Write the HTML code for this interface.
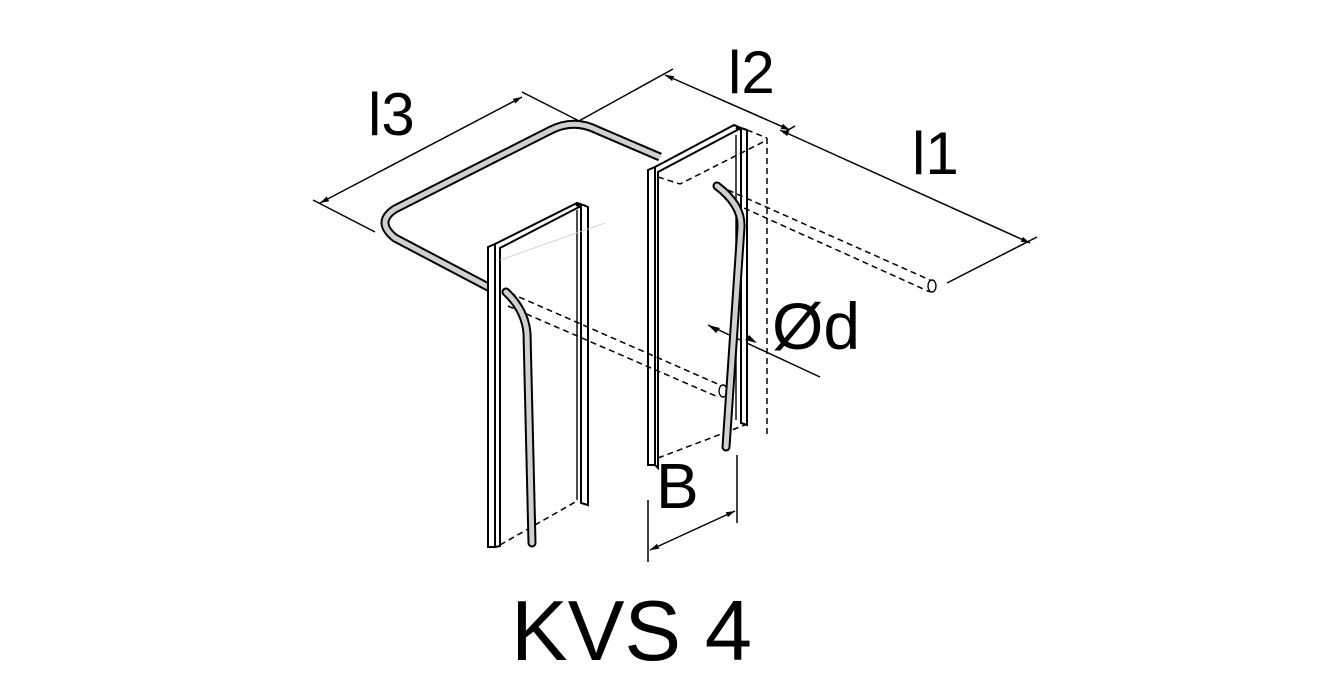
<!DOCTYPE html>
<html><head><meta charset="utf-8"><style>
html,body{margin:0;padding:0;background:#fff;}
svg{display:block;}
text{font-family:"Liberation Sans",Arial,sans-serif;fill:#000;}
</style></head><body>
<svg width="1340" height="700" viewBox="0 0 1340 700" xmlns="http://www.w3.org/2000/svg">
<defs>
<marker id="ar" viewBox="0 0 10 10" refX="10" refY="5" markerWidth="9" markerHeight="9" orient="auto-start-reverse" markerUnits="userSpaceOnUse">
<path d="M0,2 L10,5 L0,8 z" fill="#000"/></marker>
</defs>
<g fill="none" stroke="#000" stroke-width="1.5">
<line x1="313" y1="200" x2="375" y2="232"/>
<line x1="320" y1="203" x2="522" y2="97" marker-start="url(#ar)" marker-end="url(#ar)"/>
<line x1="522" y1="92" x2="585" y2="124"/>
<line x1="577" y1="122" x2="673" y2="69"/>
<line x1="665" y1="75" x2="790" y2="130" marker-start="url(#ar)" marker-end="url(#ar)"/>
<line x1="783" y1="133" x2="795" y2="126"/>
<line x1="780" y1="130" x2="1030" y2="243" marker-start="url(#ar)" marker-end="url(#ar)"/>
<line x1="947" y1="283" x2="1037" y2="237"/>
<line x1="708" y1="325" x2="820" y2="377"/>
<line x1="648" y1="500" x2="648" y2="562"/>
<line x1="737" y1="455" x2="737" y2="523"/>
<line x1="650" y1="550" x2="735" y2="511" marker-start="url(#ar)" marker-end="url(#ar)"/>
</g>
<path d="M660,157 L597,130 Q573,118 549,131 L395,209 Q375,222 395,238 L490,288" fill="none" stroke="#000" stroke-width="9" stroke-linejoin="round"/>
<path d="M660,157 L597,130 Q573,118 549,131 L395,209 Q375,222 395,238 L490,288" fill="none" stroke="#d0d0d0" stroke-width="5" stroke-linejoin="round"/>
<g fill="#fff" stroke="#000" stroke-width="2">
<path d="M488,247 L488,547 L495,547 L495,244 Z"/>
<path d="M495,244 L577,203 L583,205 L500,248 L500,546 L495,547 Z"/>
<path d="M576,205 L583,205 L588,207 L588,505 L581,503 L581,207 Z"/>
</g>
<line x1="577" y1="210" x2="577" y2="500" stroke="#000" stroke-width="1.4"/>
<line x1="500" y1="260" x2="605" y2="223" stroke="#ccc" stroke-width="0.8"/>
<line x1="500" y1="545" x2="577" y2="501" stroke="#000" stroke-width="1.5" stroke-dasharray="6,4"/>
<g fill="#fff" stroke="#000" stroke-width="2">
<path d="M648,170 L648,465 L655,465 L655,167 Z"/>
<path d="M655,167 L734,125 L741,128 L658,172 L658,468 L655,465 Z"/>
<path d="M736,128 L741,128 L747,130 L747,425 L741,423 L741,130 Z"/>
</g>
<line x1="736" y1="135" x2="736" y2="420" stroke="#000" stroke-width="1.4"/>
<g fill="none" stroke="#000" stroke-width="1.5" stroke-dasharray="6,4">
<path d="M767,138 L767,435"/>
<path d="M658,177 L680,184 L767,140"/>
<path d="M658,458 L745,425"/>
<path d="M747,130 L767,138"/>
<path d="M728,190 L930,280"/>
<path d="M735,204 L930,292"/>
<path d="M510,293 L720,385"/>
<path d="M508,306 L718,397"/>
</g>
<ellipse cx="932" cy="286" rx="4" ry="6" fill="#fff" stroke="#000" stroke-width="1.4"/>
<ellipse cx="723" cy="391" rx="4" ry="6" fill="#fff" stroke="#000" stroke-width="1.4"/>
<g fill="none" stroke-linecap="round" stroke-linejoin="round">
<path d="M506,292 Q525,310 527,333 L532,543" stroke="#000" stroke-width="9"/>
<path d="M506,292 Q525,310 527,333 L532,543" stroke="#d0d0d0" stroke-width="5"/>
<path d="M717,186 Q742,205 741,227 L726,447" stroke="#000" stroke-width="9"/>
<path d="M717,186 Q742,205 741,227 L726,447" stroke="#d0d0d0" stroke-width="5"/>
</g>
<path d="M708,325 L720,328 L716,333 Z" fill="#000"/>
<path d="M757,343 L745,340 L749,335 Z" fill="#000"/>
<text x="368" y="135" font-size="60">l3</text>
<text x="728" y="93" font-size="60">l2</text>
<text x="912" y="174" font-size="60">l1</text>
<text x="772" y="349" font-size="66">Ød</text>
<text x="656" y="508" font-size="64">B</text>
<text x="511" y="660" font-size="85">KVS 4</text>
</svg>
</body></html>
